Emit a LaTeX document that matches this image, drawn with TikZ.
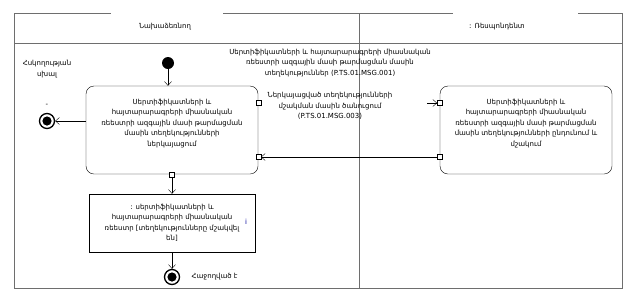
\documentclass[tikz,border=0pt]{standalone}
\usepackage{fontspec}
\setmainfont{DejaVu Sans}
\usetikzlibrary{calc, positioning, arrows.meta}
\definecolor{frame}{RGB}{110, 110, 110}

\tikzset{
  action/.style={draw, rounded corners=8bp, minimum width=172bp, minimum height=88bp, align=center},
  objbox/.style={draw, minimum width=166bp, minimum height=58bp, align=center},
  port/.style={draw, fill=white, minimum size=5bp, inner sep=0pt},
  startnode/.style={circle, fill=black, minimum size=12bp, inner sep=0pt},
  endnode/.style={circle, draw, line width=1.3bp, minimum size=15bp, inner sep=0pt,
    path picture={\fill (path picture bounding box.center) circle (4.6bp);}},
  flow/.style={-{Straight Barb[length=4bp, width=7bp]}},
  lbl/.style={align=center},
  lane/.style={draw=frame, line width=1bp}
}

\begin{document}
\begin{tikzpicture}[x=1bp, y=-1bp, font=\fontsize{7}{10.5}\selectfont]
  \useasboundingbox (0,0) rectangle (637,305);

  % swimlanes
  \draw[lane] (14,13) -- (111,13);
  \draw[lane] (223,13) -- (453,13);
  \draw[lane] (578,13) -- (622,13);
  \draw[lane] (14,13) -- (14,288) -- (622,288) -- (622,13);
  \draw[lane] (14,43) -- (622,43);
  \draw[lane] (359,13) -- (359,288);
  \node (initiator) at (165,27) {Նախաձեռնող};
  \node (respondent) at (497,27) {: Ռեսպոնդենտ};

  % initiator side
  \node[startnode] (init) at (168,63) {};
  \node[action] (present) at (172,130) {Սերտիֆիկատների և\\հայտարարագրերի միասնական\\ռեեստրի ազգային մասի թարմացման\\մասին տեղեկությունների\\ներկայացում\\[4bp]\mbox{}};
  \node[objbox] (registry) at (172,223) {: սերտիֆիկատների և\\հայտարարագրերի միասնական\\ռեեստր [տեղեկությունները մշակվել\\են]};
  \node[text=blue!60!black] (info) at (246,222) {i};
  \node[endnode] (done) at (172,277) {};
  \node[right=8bp of done] (donelbl) {Հաջողված է};
  \node[endnode] (fail) at (47,121) {};
  \node[lbl] (faillbl) at (47,69) {Հսկողության\\սխալ};
  \node (failmark) at (47,105) {-};

  % respondent side
  \node[action] (receive) at (526,130) {Սերտիֆիկատների և\\հայտարարագրերի միասնական\\ռեեստրի ազգային մասի թարմացման\\մասին տեղեկությունների ընդունում և\\մշակում\\[4bp]\mbox{}};

  % pins
  \node[port] (p1) at ([yshift=27bp]present.east) {};
  \node[port] (p2) at ([yshift=-27bp]present.east) {};
  \node[port] (q1) at ([yshift=27bp]receive.west) {};
  \node[port] (q2) at ([yshift=-27bp]receive.west) {};
  \node[port] (pb) at (present.south) {};

  % messages
  \node[lbl] (msg1) at (330,63) {Սերտիֆիկատների և հայտարարագրերի միասնական\\ռեեստրի ազգային մասի թարմացման մասին\\տեղեկություններ (P.TS.01.MSG.001)};
  \node[lbl] (msg2) at (330,106) {Ներկայացված տեղեկությունների\\մշակման մասին ծանուցում\\(P.TS.01.MSG.003)};

  % flows
  \draw[flow] (init) -- (init |- present.north);
  \draw[flow] (present.west |- fail) -- (fail);
  \draw[flow] (pb) -- (registry);
  \draw[flow] (registry) -- (done);
  \coordinate (m1tail) at ([xshift=-10bp]q1.west);
  \draw[flow] (m1tail) -- (q1);
  \draw[flow] (q2) -- (p2);
\end{tikzpicture}
\end{document}
